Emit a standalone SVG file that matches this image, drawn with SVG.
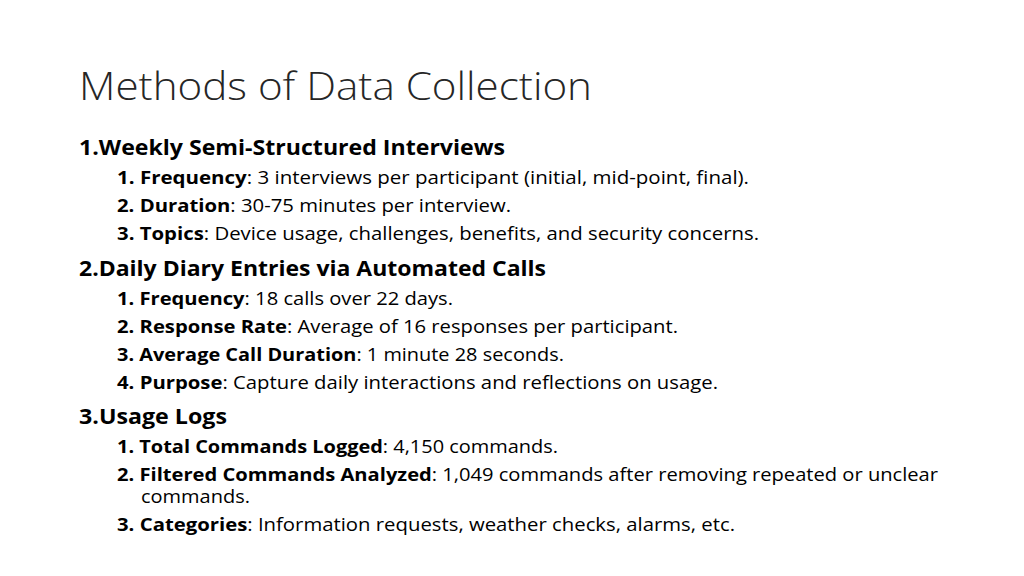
<svg xmlns="http://www.w3.org/2000/svg" width="1024" height="576" viewBox="0 0 1024 576">
<style>
text{font-family:"Open Sans","Noto Sans","Liberation Sans",sans-serif;fill:#000}
.t{font-size:39px;font-weight:300;fill:#262626}
.h{font-size:22px;font-weight:bold}
.s{font-size:18.5px}
.b{font-weight:bold}
</style>
<rect width="1024" height="576" fill="#fff"/>
<text class="t" x="79" y="100" textLength="513" lengthAdjust="spacingAndGlyphs">Methods of Data Collection</text>
<g id="sec1">
<text class="h" x="79" y="155" textLength="426" lengthAdjust="spacingAndGlyphs">1.Weekly Semi-Structured Interviews</text>
<text class="s" x="117" y="184" textLength="632" lengthAdjust="spacingAndGlyphs"><tspan class="b">1. Frequency</tspan>: 3 interviews per participant (initial, mid-point, final).</text>
<text class="s" x="117" y="212" textLength="394" lengthAdjust="spacingAndGlyphs"><tspan class="b">2. Duration</tspan>: 30-75 minutes per interview.</text>
<text class="s" x="117" y="240" textLength="642" lengthAdjust="spacingAndGlyphs"><tspan class="b">3. Topics</tspan>: Device usage, challenges, benefits, and security concerns.</text>
</g>
<g id="sec2">
<text class="h" x="79" y="276" textLength="467" lengthAdjust="spacingAndGlyphs">2.Daily Diary Entries via Automated Calls</text>
<text class="s" x="117" y="305" textLength="336" lengthAdjust="spacingAndGlyphs"><tspan class="b">1. Frequency</tspan>: 18 calls over 22 days.</text>
<text class="s" x="117" y="333" textLength="561" lengthAdjust="spacingAndGlyphs"><tspan class="b">2. Response Rate</tspan>: Average of 16 responses per participant.</text>
<text class="s" x="117" y="361" textLength="447" lengthAdjust="spacingAndGlyphs"><tspan class="b">3. Average Call Duration</tspan>: 1 minute 28 seconds.</text>
<text class="s" x="117" y="389" textLength="601" lengthAdjust="spacingAndGlyphs"><tspan class="b">4. Purpose</tspan>: Capture daily interactions and reflections on usage.</text>
</g>
<g id="sec3">
<text class="h" x="79" y="424" textLength="148" lengthAdjust="spacingAndGlyphs">3.Usage Logs</text>
<text class="s" x="117" y="453" textLength="441" lengthAdjust="spacingAndGlyphs"><tspan class="b">1. Total Commands Logged</tspan>: 4,150 commands.</text>
<text class="s" x="117" y="481" textLength="821" lengthAdjust="spacingAndGlyphs"><tspan class="b">2. Filtered Commands Analyzed</tspan>: 1,049 commands after removing repeated or unclear</text>
<text class="s" x="141" y="503" textLength="109" lengthAdjust="spacingAndGlyphs">commands.</text>
<text class="s" x="117" y="531" textLength="618" lengthAdjust="spacingAndGlyphs"><tspan class="b">3. Categories</tspan>: Information requests, weather checks, alarms, etc.</text>
</g>
</svg>
